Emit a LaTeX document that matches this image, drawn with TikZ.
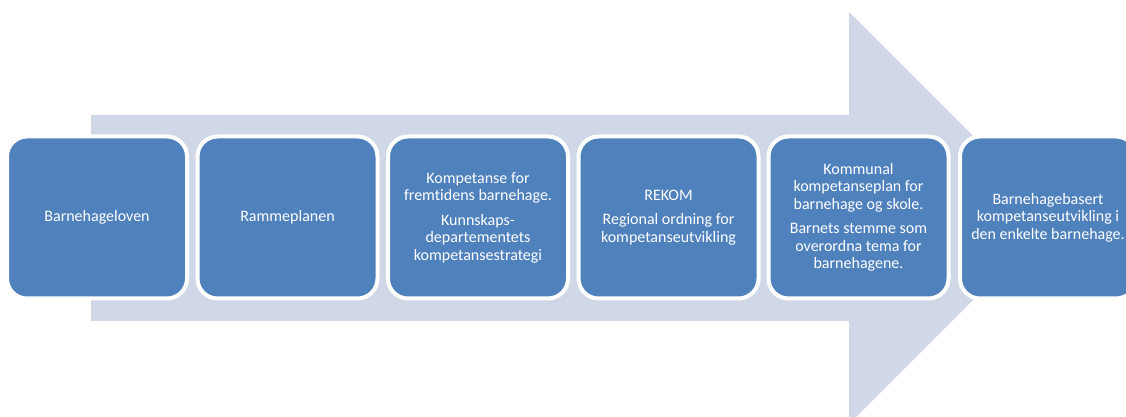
\documentclass[tikz,border=0pt]{standalone}
\usepackage{fontspec}
\setmainfont[Ligatures=CommonOff]{Carlito}
\definecolor{boxblue}{HTML}{4F81BD}
\definecolor{arrowgrey}{HTML}{D0D8E8}
\tikzset{
  stage/.style={rectangle, rounded corners=20pt, fill=boxblue, draw=white, line width=4pt,
    minimum width=180pt, minimum height=162pt, inner sep=0pt, align=center,
    text=white, font=\fontsize{16}{17.5}\selectfont},
  bigarrow/.style={fill=arrowgrey, draw=none}
}
\begin{document}
\begin{tikzpicture}[x=1pt,y=1pt]
\useasboundingbox (0,0) rectangle (1126,417);
\begin{scope}
\clip (0,0) rectangle (1126,417);
\fill[bigarrow] (91,302) -- (849,302) -- (849,405) -- (1055,199) -- (849,-7) -- (849,96) -- (91,96) -- cycle;
\node[stage] (b1) at (97,199.5) {Barnehageloven};
\node[stage] (b2) at (287.5,199.5) {Rammeplanen};
\node[stage] (b3) at (478,199.5) {Kompetanse for\\fremtidens barnehage.\\[7pt]Kunnskaps-\\departementets\\kompetansestrategi};
\node[stage] (b4) at (668.5,199.5) {REKOM\\[7pt]Regional ordning for\\kompetanseutvikling};
\node[stage] (b5) at (858.5,199.5) {Kommunal\\kompetanseplan for\\barnehage og skole.\\[7pt]Barnets stemme som\\overordna tema for\\barnehagene.};
\node[stage, minimum width=176pt] (b6) at (1048,199.5) {Barnehagebasert\\kompetanseutvikling i\\den enkelte barnehage.};
\end{scope}
\end{tikzpicture}
\end{document}
